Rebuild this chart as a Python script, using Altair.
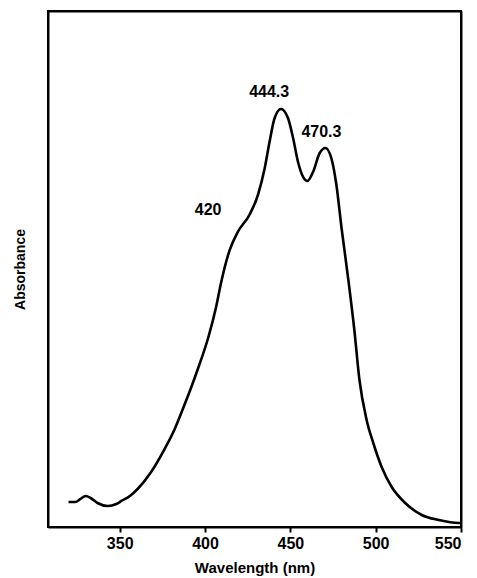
import altair as alt
import pandas as pd

# Spectrum (wavelength in nm, relative absorbance)
wavelength = [320, 324, 327, 330, 333, 337, 343, 348, 351, 356, 360.5, 368, 376, 382,
              387, 392, 396, 402, 406.5, 409.5, 413.5, 419.2, 426, 431, 435, 437.8,
              440.8, 444.5, 448.6, 451.6, 454.5, 457.5, 460, 463.3, 467.2, 470.6,
              474, 477, 480, 484, 487.5, 490.5, 494.7, 498.6, 503.5, 509.4, 517.3,
              527, 537, 548.6, 550]
absorb_px = [25, 25, 28, 31, 29, 24, 21, 23, 26, 31, 38, 54, 77, 97,
             118, 140, 159, 190, 220, 245, 272, 295, 312, 332, 359, 385,
             409, 418, 409, 389, 365, 350, 346, 355, 374, 379,
             369, 342, 299, 247, 197, 147, 107, 84, 60, 40, 24,
             12, 7, 4, 4]
absorbance = [round(a / 516, 4) for a in absorb_px]

label_text = ["420", "444.3", "470.3"]
label_wl = [401.8, 437.6, 468.2]
label_abs = [round(a / 516, 4) for a in [317, 435, 395]]

x_ticks = [350, 400, 450, 500, 550]

df = pd.DataFrame({"wl": wavelength, "A": absorbance})
lab = pd.DataFrame({"wl": label_wl, "A": label_abs, "t": label_text})

FONT = "Liberation Sans"
W, H = 413, 516

xs = alt.Scale(domain=[308, 550], nice=False, zero=False)
ys = alt.Scale(domain=[0, 1], nice=False, zero=True)

line = alt.Chart(df).mark_line(color="black", strokeWidth=2.6, interpolate="monotone").encode(
    x=alt.X("wl:Q", scale=xs,
            axis=alt.Axis(title="Wavelength (nm)", values=x_ticks, grid=False,
                          labelFont=FONT, labelFontSize=16, labelFontWeight="bold",
                          labelColor="black", labelPadding=3,
                          tickColor="black", tickSize=5, tickWidth=2,
                          domainColor="black", domainWidth=2,
                          titleFont=FONT, titleFontSize=15, titleFontWeight="bold",
                          titleColor="black", titlePadding=9)),
    y=alt.Y("A:Q", scale=ys,
            axis=alt.Axis(title="Absorbance", labels=False, ticks=False, grid=False,
                          domainColor="black", domainWidth=2,
                          titleFont=FONT, titleFontSize=14, titleFontWeight="bold",
                          titleColor="black", titlePadding=21)),
)

# text layer also carries the top and right axis lines that close the frame
text = alt.Chart(lab).mark_text(font=FONT, fontSize=16, fontWeight="bold", color="black",
                                baseline="middle", align="center").encode(
    x=alt.X("wl:Q", scale=xs,
            axis=alt.Axis(orient="top", title=None, labels=False, ticks=False, grid=False,
                          domainColor="black", domainWidth=2)),
    y=alt.Y("A:Q", scale=ys,
            axis=alt.Axis(orient="right", title=None, labels=False, ticks=False, grid=False,
                          domainColor="black", domainWidth=2)),
    text="t:N",
)

chart = (line + text).resolve_axis(x="independent", y="independent").properties(
    width=W, height=H,
    autosize=alt.AutoSizeParams(type="none"),
    padding={"left": 40, "top": 3, "right": 8, "bottom": 50},
).configure(
    background="white",
    view=alt.ViewConfig(stroke="black", strokeWidth=2),
)

chart.save("out.html", embed_options={"renderer": "svg", "actions": False})
